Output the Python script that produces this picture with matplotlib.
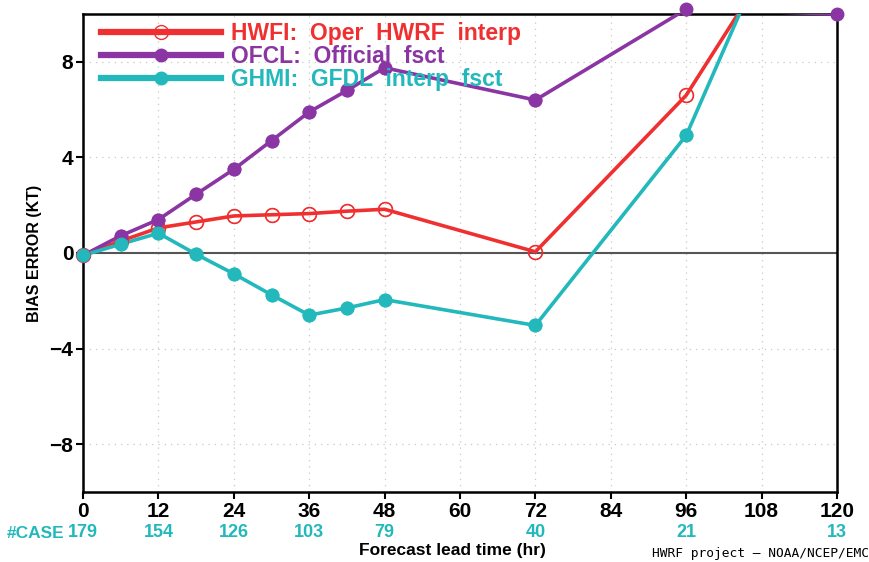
import numpy as np
import matplotlib
matplotlib.use("Agg")
import matplotlib.pyplot as plt

hours = [0, 6, 12, 18, 24, 30, 36, 42, 48, 72, 96, 120]
hwfi = [-0.1, 0.5, 1.05, 1.3, 1.55, 1.6, 1.65, 1.75, 1.83, 0.05, 6.6, 16.5]
ofcl = [-0.1, 0.72, 1.4, 2.46, 3.5, 4.7, 5.9, 6.8, 7.75, 6.4, 10.2, 10.0]
ghmi = [-0.1, 0.37, 0.83, -0.05, -0.87, -1.75, -2.6, -2.3, -1.95, -3.03, 4.92, 19.3]

case_hours = [0, 12, 24, 36, 48, 72, 96, 120]
case_counts = ["179", "154", "126", "103", "79", "40", "21", "13"]

xticks = [0, 12, 24, 36, 48, 60, 72, 84, 96, 108, 120]
yticks = [-8, -4, 0, 4, 8]

RED = "#f03030"
PURPLE = "#8a35a3"
CYAN = "#22b8bc"

FONT = ["Liberation Sans", "DejaVu Sans"]
plt.rcParams["font.family"] = FONT

fig = plt.figure(figsize=(8.7, 5.62), dpi=100)
ax = fig.add_axes([83 / 870, 1 - 492 / 562, (837 - 83) / 870, (492 - 14) / 562])
ax.set_xlim(0, 120)
ax.set_ylim(-10, 10)

for x in xticks:
    ax.axvline(x, color="#c8c8c8", lw=0.9, ls=(0, (1, 4)), zorder=0)
for y in [-8, -4, 4, 8]:
    ax.axhline(y, color="#c8c8c8", lw=0.9, ls=(0, (1, 4)), zorder=0)
ax.axhline(0, color="#555555", lw=1.5, zorder=1)

def series(vals, color, label, filled):
    v = np.array(vals, dtype=float)
    if filled:
        mkw = dict(marker="o", markersize=9, markerfacecolor=color, markeredgecolor=color)
    else:
        mkw = dict(marker="o", markersize=10, markerfacecolor="none", markeredgecolor=color, markeredgewidth=1.0)
    ax.plot(hours, v, color=color, lw=2.6, label=label, zorder=3, **mkw)
    vis = np.where((v <= 10.5) & (v >= -10.5), v, np.nan)
    m = ax.plot(hours, vis, ls="none", zorder=4, **mkw)
    for h in m:
        h.set_clip_on(False)

series(hwfi, RED, "HWFI:  Oper  HWRF  interp", False)
series(ofcl, PURPLE, "OFCL:  Official  fsct", True)
series(ghmi, CYAN, "GHMI:  GFDL  interp  fsct", True)

leg = ax.legend(loc="upper left", bbox_to_anchor=(-0.003, 1.026), frameon=False,
                handlelength=5.2, handletextpad=0.45, labelspacing=0.0,
                prop=dict(family=FONT, weight="bold", size=16.5))
for t, c in zip(leg.get_texts(), [RED, PURPLE, CYAN]):
    t.set_color(c)
for ln in leg.get_lines():
    ln.set_linewidth(4.5)

ax.set_xticks(xticks)
ax.set_xticklabels([str(x) for x in xticks], fontsize=15, fontweight="bold")
ax.set_yticks(yticks)
ax.set_yticklabels(["\u2212" + str(-y) if y < 0 else str(y) for y in yticks],
                   fontsize=15, fontweight="bold")
ax.tick_params(direction="out", length=5, width=1.5, pad=2)
for s in ax.spines.values():
    s.set_linewidth(1.8)

ax.set_ylabel("BIAS ERROR (KT)", fontsize=11.5, fontweight="bold", labelpad=5)

tr = ax.get_xaxis_transform()
for h, c in zip(case_hours, case_counts):
    ax.text(h, -0.085, c, transform=tr, ha="center", va="center",
            color=CYAN, fontsize=13, fontweight="bold")
fig.text(7 / 870, 1 - 533 / 562, "#CASE", color=CYAN, fontsize=12.5, fontweight="bold",
         ha="left", va="center")
fig.text(452 / 870, 1 - 551 / 562, "Forecast lead time (hr)", fontsize=12.5,
         fontweight="bold", ha="center", va="center")
fig.text(869 / 870, 1 - 554 / 562, "HWRF project \u2013 NOAA/NCEP/EMC", fontsize=9.3,
         ha="right", va="center", family=["DejaVu Sans Mono", "DejaVu Sans"])

fig.savefig("out.png", dpi=100)
